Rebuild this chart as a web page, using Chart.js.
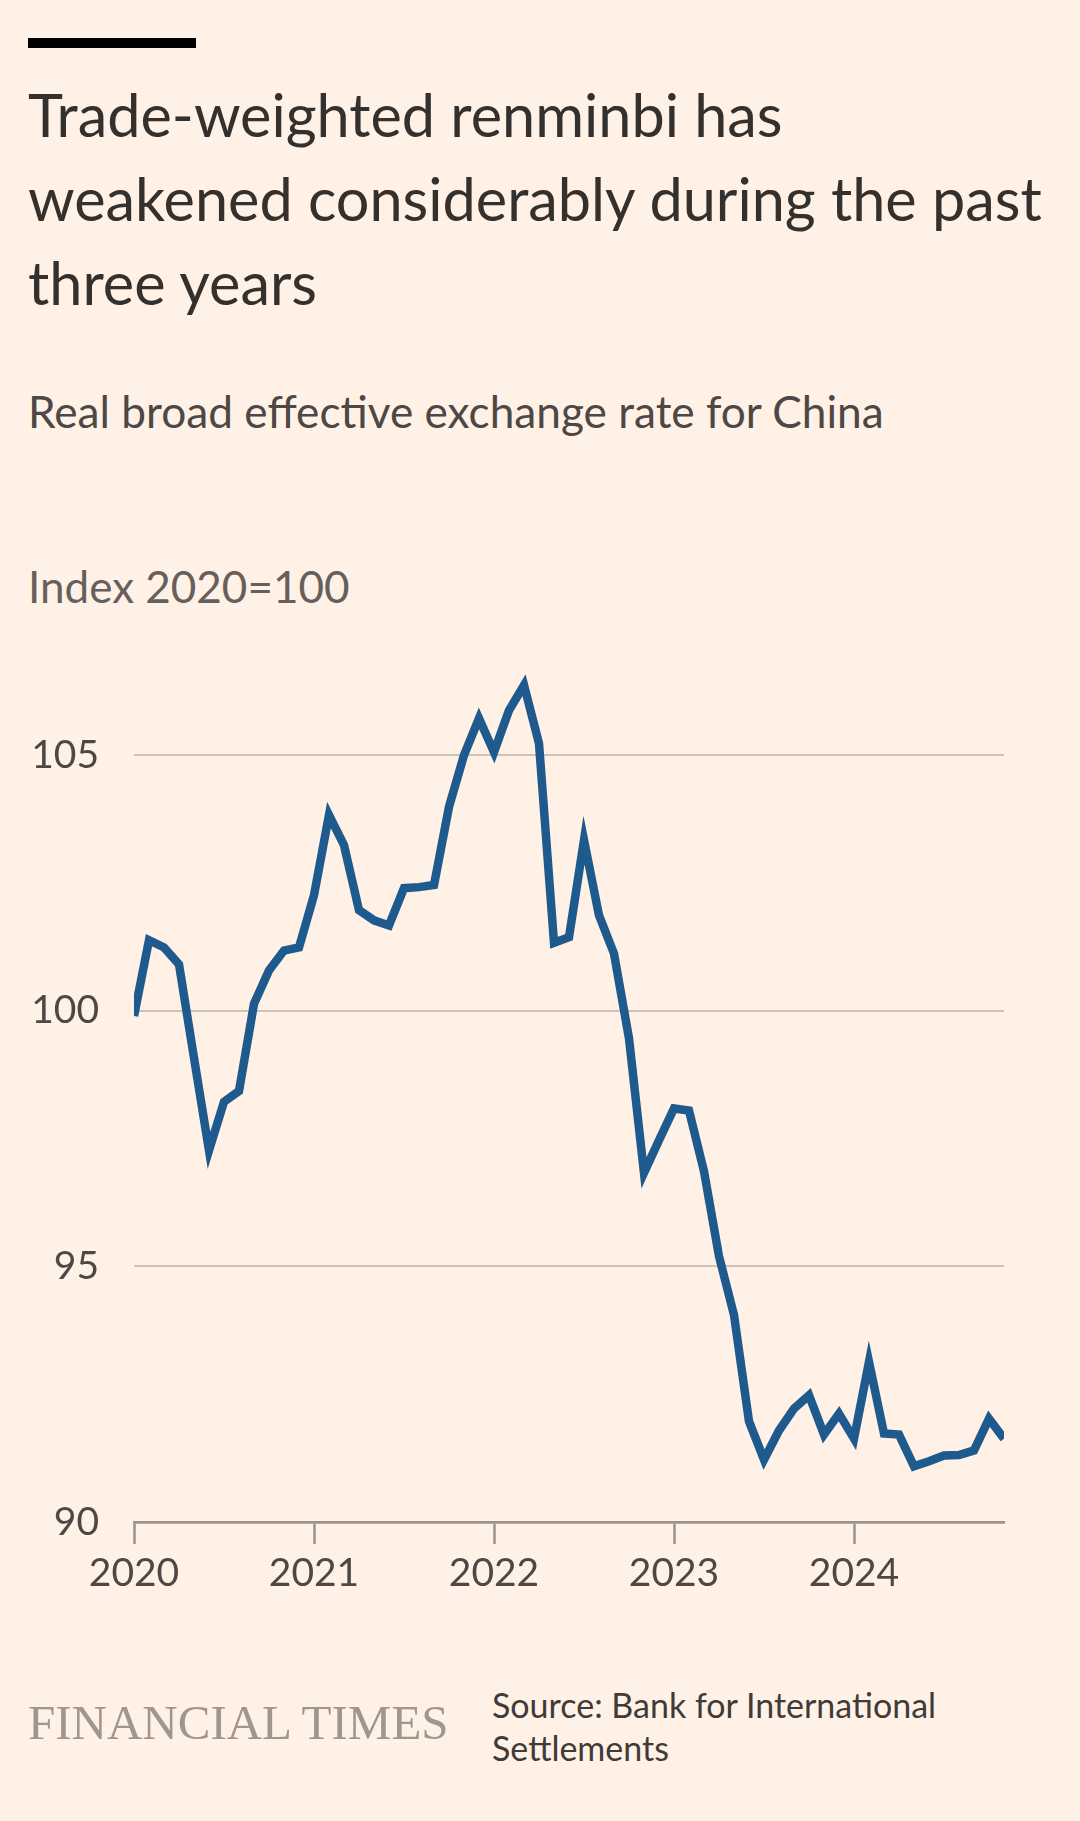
<!DOCTYPE html>
<html lang="en">
<head>
  <meta charset="UTF-8">
  <title>Trade-weighted renminbi</title>
  <script src="https://cdn.jsdelivr.net/npm/chart.js"></script>
  <style>
    body {margin:0; background:#fff1e5; font-family:Lato, sans-serif;}
    .page {position:relative; width:1080px; height:1821px; overflow:hidden; background:#fff1e5;}
    .bar {position:absolute; left:28px; top:38px; width:168px; height:10px; background:#000;}
    .title {position:absolute; left:28px; top:72px; font-size:59.4px; line-height:84px; color:#33302e; white-space:nowrap;}
    .sub {position:absolute; left:28px; top:386px; font-size:44.2px; line-height:50px; color:#4d4845; white-space:nowrap;}
    .unit {position:absolute; left:28px; top:560px; font-size:44px; line-height:52px; color:#66605c; white-space:nowrap;}
    .chartbox {position:absolute; left:0; top:620px; width:1080px; height:1000px;}
    .logo {position:absolute; left:28px; top:1699px; font-family:"Liberation Serif", serif; font-size:49px; line-height:48px; color:#9e968f; white-space:nowrap;}
    .source {position:absolute; left:492px; top:1684px; font-size:34px; line-height:42.7px; color:#403b38;}
  </style>
</head>
<body>
<div class="page">
  <div class="bar"></div>
  <div class="title">Trade-weighted renminbi has<br>weakened considerably during the past<br>three years</div>
  <div class="sub">Real broad effective exchange rate for China</div>
  <div class="unit">Index 2020=100</div>
  <div class="chartbox"><canvas id="grafico" width="1080" height="1000"></canvas></div>
  <div class="logo">FINANCIAL TIMES</div>
  <div class="source">Source: Bank for International<br>Settlements</div>
</div>

<script>
// monthly, Jan 2020 .. Nov 2024
const years = [2020, 2021, 2022, 2023, 2024];
const months = [];
years.forEach(y => {
  for (let m = 1; m <= 12; m++) {
    if (y === 2024 && m > 11) break;
    months.push(y + '-' + String(m).padStart(2, '0'));
  }
});

const reer = [
  99.9, 101.38, 101.24, 100.91, 99.08, 97.27, 98.22, 98.43, 100.14, 100.79, 101.18, 101.24,
  102.26, 103.83, 103.24, 101.97, 101.77, 101.67, 102.40, 102.42, 102.46, 103.99, 105.0, 105.72,
  105.06, 105.88, 106.37, 105.23, 101.33, 101.44, 103.34, 101.87, 101.12, 99.46, 96.83, 97.47,
  98.09, 98.05, 96.86, 95.20, 94.05, 91.97, 91.22, 91.79, 92.22, 92.48, 91.71, 92.12,
  91.63, 93.13, 91.73, 91.71, 91.09, 91.19, 91.30, 91.31, 91.40, 92.02, 91.63
];

const yearLabels = ['2020', '2021', '2022', '2023', '2024'];
const yTicks = [90, 95, 100, 105];

const AXIS = '#9b928b';
const GRID = '#cdc3b9';
const TEXT = '#4d4845';

Chart.defaults.font.family = 'Lato';

new Chart(document.getElementById('grafico'), {
  type: 'line',
  data: {
    labels: months,
    datasets: [{
      label: 'Real broad effective exchange rate',
      data: reer,
      borderColor: '#1f5a8e',
      borderWidth: 8.5,
      pointRadius: 0,
      tension: 0,
      fill: false,
      clip: 0
    }]
  },
  options: {
    responsive: false,
    animation: false,
    layout: { padding: { top: 33, right: 76, bottom: 0, left: 0 } },
    plugins: { legend: { display: false }, tooltip: { enabled: false } },
    scales: {
      x: {
        type: 'category',
        offset: false,
        afterFit: s => { s.height = 98; s.paddingLeft = 0; s.paddingRight = 0; },
        grid: {
          drawOnChartArea: false,
          drawTicks: true,
          tickLength: 22,
          tickWidth: 2.5,
          tickColor: AXIS
        },
        border: { display: true, color: AXIS, width: 2.7 },
        ticks: {
          autoSkip: false,
          maxRotation: 0,
          padding: 6.5,
          color: TEXT,
          font: { size: 39 },
          callback: (v, i) => months[i].endsWith('-01') ? yearLabels[years.indexOf(+months[i].slice(0, 4))] : null
        }
      },
      y: {
        min: 90,
        max: 107,
        afterBuildTicks: s => { s.ticks = yTicks.map(v => ({ value: v })); },
        afterFit: s => { s.width = 134; s.paddingTop = 0; s.paddingBottom = 0; },
        grid: {
          drawTicks: false,
          lineWidth: 2,
          color: c => c.tick.value === 90 ? AXIS : GRID
        },
        border: { display: false },
        ticks: {
          padding: 35,
          color: TEXT,
          font: { size: 39 }
        }
      }
    }
  }
});
</script>
</body>
</html>
